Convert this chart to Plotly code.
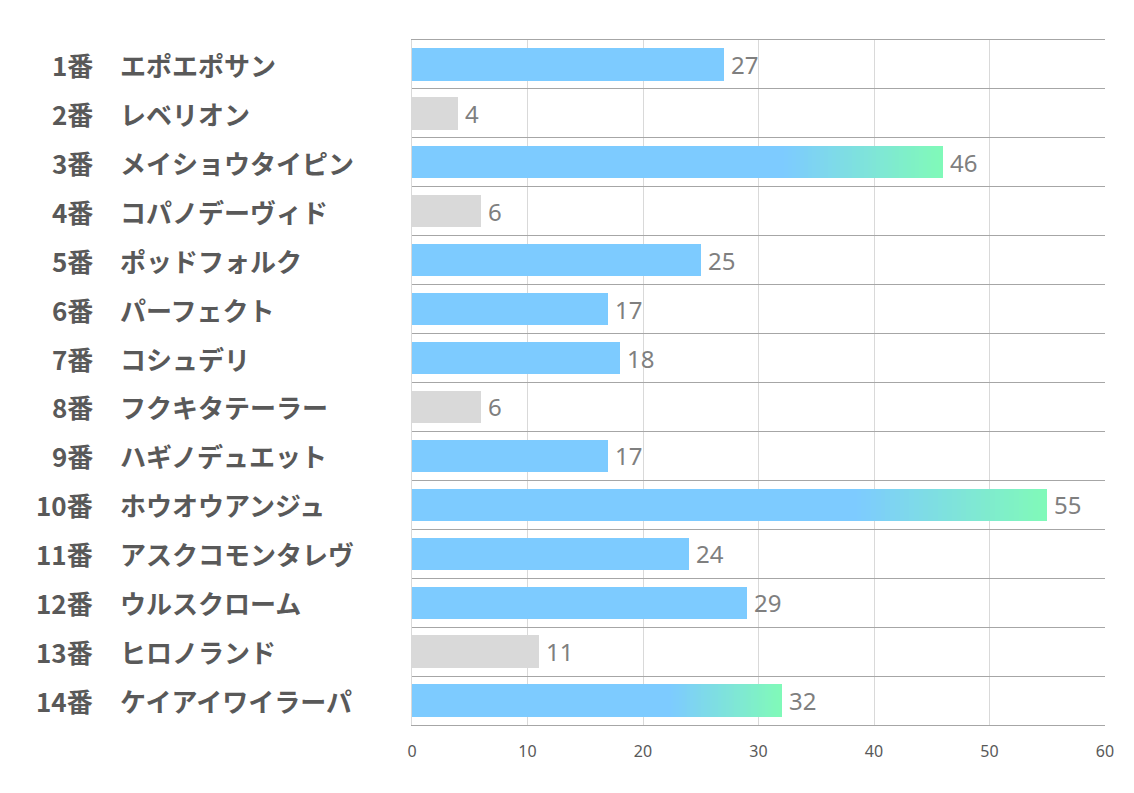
import plotly.graph_objects as go

numbers = ["1番", "2番", "3番", "4番", "5番", "6番", "7番", "8番", "9番", "10番", "11番", "12番", "13番", "14番"]
names = ["エポエポサン", "レベリオン", "メイショウタイピン", "コパノデーヴィド", "ポッドフォルク",
         "パーフェクト", "コシュデリ", "フクキタテーラー", "ハギノデュエット", "ホウオウアンジュ",
         "アスクコモンタレヴ", "ウルスクローム", "ヒロノランド", "ケイアイワイラーパ"]
values = [27, 4, 46, 6, 25, 17, 18, 6, 17, 55, 24, 29, 11, 32]
kinds = ["blue", "gray", "grad", "gray", "blue", "blue", "blue", "gray", "blue", "grad",
         "blue", "blue", "gray", "grad"]
x_ticks = [0, 10, 20, 30, 40, 50, 60]

BLUE = (125, 203, 255)
GREEN = (128, 250, 184)
GRAY = "#d9d9d9"
GRAD_START = 0.7
N_SEG = 40

ys = list(range(len(values)))

base_x = []
base_colors = []
for v, k in zip(values, kinds):
    if k == "grad":
        base_x.append(v * GRAD_START)
        base_colors.append("rgb(%d,%d,%d)" % BLUE)
    elif k == "gray":
        base_x.append(v)
        base_colors.append(GRAY)
    else:
        base_x.append(v)
        base_colors.append("rgb(%d,%d,%d)" % BLUE)

fig = go.Figure()
fig.add_trace(go.Bar(
    x=base_x, y=ys, orientation="h", width=0.66,
    marker=dict(color=base_colors, line=dict(width=0)),
    hoverinfo="skip", showlegend=False,
))

seg_x, seg_base, seg_y, seg_c = [], [], [], []
for i, (v, k) in enumerate(zip(values, kinds)):
    if k != "grad":
        continue
    s = v * GRAD_START
    w = (v - s) / N_SEG
    for j in range(N_SEG):
        t = (j + 0.5) / N_SEG
        c = tuple(round(BLUE[n] + (GREEN[n] - BLUE[n]) * t) for n in range(3))
        seg_x.append(w * 1.02 if j < N_SEG - 1 else w)
        seg_base.append(s + j * w)
        seg_y.append(i)
        seg_c.append("rgb(%d,%d,%d)" % c)

fig.add_trace(go.Bar(
    x=seg_x, base=seg_base, y=seg_y, orientation="h", width=0.66,
    marker=dict(color=seg_c, line=dict(width=0)),
    hoverinfo="skip", showlegend=False,
))

LABEL_FONT = dict(family="Noto Sans CJK JP", size=26, color="#595959", weight="bold")
annotations = []
for i, (num, nm, v) in enumerate(zip(numbers, names, values)):
    annotations.append(dict(x=0, xref="paper", y=i, yref="y", text=num, showarrow=False,
                            xanchor="right", xshift=-317, font=LABEL_FONT))
    annotations.append(dict(x=0, xref="paper", y=i, yref="y", text=nm, showarrow=False,
                            xanchor="left", xshift=-294, font=LABEL_FONT))
    annotations.append(dict(x=v, xref="x", y=i, yref="y", text=str(v), showarrow=False,
                            xanchor="left", xshift=5,
                            font=dict(family="Noto Sans", size=24, color="#7f7f7f")))

fig.update_layout(
    width=1134, height=793,
    margin=dict(l=404, r=37, t=32, b=76),
    paper_bgcolor="white", plot_bgcolor="white",
    barmode="overlay", bargap=0,
    annotations=annotations,
    xaxis=dict(range=[0, 60], tickvals=x_ticks, showgrid=True, gridcolor="#d9d9d9", gridwidth=1,
               zeroline=False, showline=True, linecolor="#a6a6a6", linewidth=1, mirror=True,
               ticks="", ticklabelstandoff=12,
               tickfont=dict(family="Liberation Sans Narrow, Noto Sans", size=16, color="#595959"),
               fixedrange=True),
    yaxis=dict(range=[len(values) - 0.5, -0.5], tickvals=[i - 0.5 for i in range(len(values) + 1)],
               showticklabels=False, showgrid=True, gridcolor="#a6a6a6", gridwidth=1,
               zeroline=False, showline=True, linecolor="#d9d9d9", linewidth=1,
               ticks="", fixedrange=True),
)

fig.write_html("out.html")
